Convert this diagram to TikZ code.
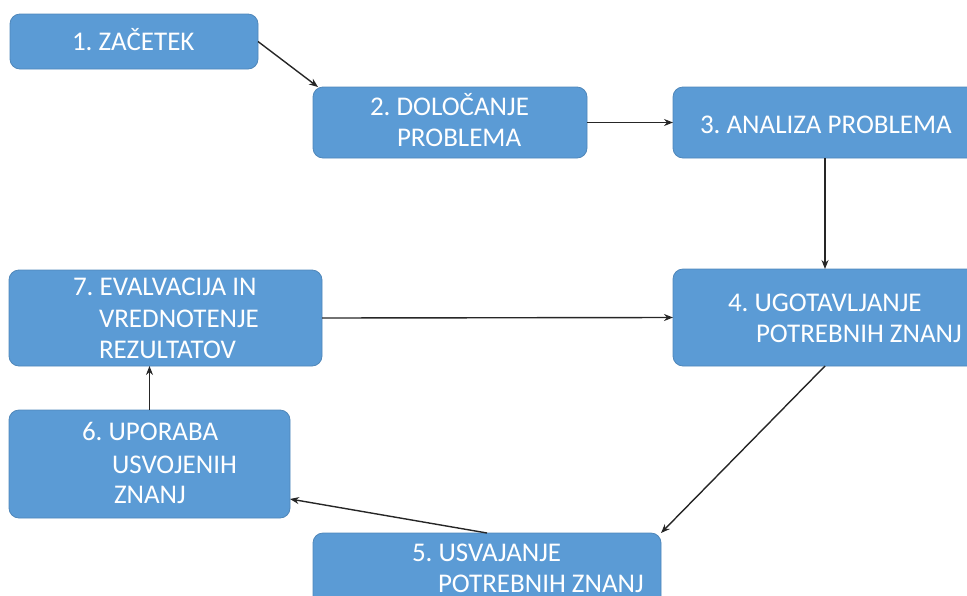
\documentclass[tikz,border=0pt]{standalone}
\usepackage{fontspec}
\setmainfont{Carlito}
\usetikzlibrary{arrows.meta,calc}
\definecolor{boxfill}{HTML}{5B9BD5}
\definecolor{boxline}{HTML}{4F87BA}
\tikzset{
  box/.style={draw=boxline, line width=0.8pt, fill=boxfill, rounded corners=10pt, inner sep=0pt, outer sep=0pt},
  lbl/.style={anchor=base west, inner sep=0pt, outer sep=0pt, text=white, font=\fontsize{27}{31}\selectfont\frenchspacing},
  arr/.style={draw=black!85, line width=1.4pt, -{Stealth[length=9pt,width=7pt]}}
}
\begin{document}
\begin{tikzpicture}[x=1pt,y=-1pt]
\useasboundingbox (0,0) rectangle (967,595);
\clip (0,0) rectangle (967,595);
% boxes
\node[box, minimum width=248pt, minimum height=55pt] (b1) at (134,41.5) {};
\node[box, minimum width=274pt, minimum height=71pt] (b2) at (450,122.5) {};
\node[box, minimum width=304pt, minimum height=71pt] (b3) at (825,122.5) {};
\node[box, minimum width=304pt, minimum height=97pt] (b4) at (825,317.5) {};
\node[box, minimum width=348pt, minimum height=117pt] (b5) at (487,591.5) {};
\node[box, minimum width=281pt, minimum height=108pt] (b6) at (149.5,464) {};
\node[box, minimum width=313pt, minimum height=96pt] (b7) at (165.5,318) {};
% labels
\node[lbl] (t1) at (72,50) {1. ZAČETEK};
\node[lbl] (t2a) at (370,115) {2. DOLOČANJE};
\node[lbl] (t2b) at (397,146) {PROBLEMA};
\node[lbl] (t3) at (700,133) {3. ANALIZA PROBLEMA};
\node[lbl] (t4a) at (728,311) {4. UGOTAVLJANJE};
\node[lbl] (t4b) at (756,342) {POTREBNIH ZNANJ};
\node[lbl] (t5a) at (412,561) {5. USVAJANJE};
\node[lbl] (t5b) at (438,592) {POTREBNIH ZNANJ};
\node[lbl] (t6a) at (82,440) {6. UPORABA};
\node[lbl] (t6b) at (112,473) {USVOJENIH};
\node[lbl] (t6c) at (114,503) {ZNANJ};
\node[lbl] (t7a) at (73,295) {7. EVALVACIJA IN};
\node[lbl] (t7b) at (99,327) {VREDNOTENJE};
\node[lbl] (t7c) at (99,358) {REZULTATOV};
% connectors
\draw[arr] (b1.east) -- ($(b2.north west)+(5,0)$);
\draw[arr] (b2.east) -- (b3.west);
\draw[arr] (b3.south) -- (b4.north);
\draw[arr] (b7.east) -- (b4.west);
\draw[arr] (b4.south) -- (b5.north east);
\draw[arr] (b5.north) -- ($(b6.south east)+(0,-19)$);
\draw[arr] (b6.north) -- (b6.north |- b7.south);
\end{tikzpicture}
\end{document}
